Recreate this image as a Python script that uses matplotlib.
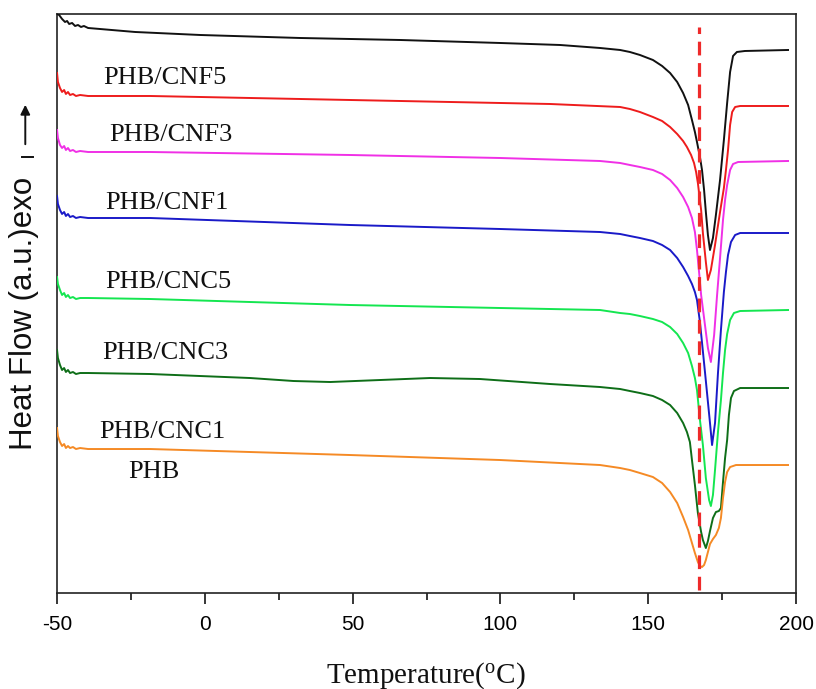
import matplotlib
matplotlib.use("Agg")
import matplotlib.pyplot as plt
from matplotlib.ticker import MultipleLocator

plt.rcParams["axes.unicode_minus"] = False

# ── data (temperature in °C, heat flow in a.u.) ─────────────────────────────
# PHB/CNF5 ... black curve at the top
cnf5_t  = [-50, -49.3, -48.3, -47.3, -46.6, -45.9, -44.9, -43.9, -42.9, -41.9, -40.9,
           -39.5, -35.5, -23.6, -1.6, 32.2, 66.0, 99.9, 120.2, 133.7, 140.5,
           143.8, 147.2, 151.6, 154.7, 157.4, 159.8, 161.8, 163.5, 164.8, 165.8,
           166.5, 167.5, 168.2, 168.9, 169.5, 170.2, 170.9,
           171.9, 172.9, 174.3, 175.6, 176.7, 177.7, 178.7, 180.0, 182.7, 197.3]
cnf5_hf = [579, 578, 574, 571, 572, 569, 570, 567, 568, 566, 567,
           565, 564, 561, 558, 555, 553, 550, 548, 545, 543,
           541, 538, 533, 527, 520, 511, 500, 488, 473, 461,
           451, 436, 423, 403, 381, 358, 343,
           355, 378, 413, 453, 490, 521, 537, 541, 542, 543]

# red
cnf3_t  = [-50, -49.7, -49.0, -48.3, -47.6, -47.0, -46.3, -45.6, -44.6, -43.6, -42.2,
           -39.5, -18.5, 15.3, 49.1, 83.0, 116.8, 140.5,
           143.8, 147.2, 151.6, 154.7, 157.4, 159.8, 161.8, 163.1, 164.5, 165.5,
           166.2, 166.8, 167.9, 168.5, 169.5, 170.2,
           171.2, 172.6, 174.3, 175.6, 176.3, 177.0, 177.7, 178.4, 179.4, 181.1, 197.3]
cnf3_hf = [520, 511, 505, 501, 503, 499, 501, 498, 499, 497, 498,
           497, 497, 495, 493, 491, 489, 486,
           484, 481, 476, 472, 466, 459, 452, 446, 438, 430,
           421, 410, 383, 360, 331, 313,
           323, 348, 381, 405, 423, 443, 468, 481, 486, 487, 487]

# magenta
cnf1_t  = [-50, -49.7, -49.0, -48.3, -47.6, -47.0, -46.3, -45.6, -44.6, -43.6, -42.2,
           -39.5, -18.5, 49.1, 99.9, 133.7, 140.5,
           143.8, 147.2, 151.6, 154.7, 157.4, 159.8, 161.8, 163.5, 164.8, 165.8,
           166.5, 167.2, 167.9, 169.2, 170.2, 171.2,
           172.3, 173.3, 174.3, 175.3, 176.0, 176.7, 177.7, 178.7, 180.4, 197.3]
cnf1_hf = [463, 455, 448, 445, 447, 443, 445, 442, 443, 441, 442,
           441, 441, 438, 435, 432, 430,
           428, 426, 423, 419, 413, 405, 396, 386, 375, 361,
           343, 321, 298, 268, 245, 231,
           258, 298, 335, 373, 393, 408, 423, 429, 431, 432]

# blue
cnc5_t  = [-50, -49.7, -49.0, -48.3, -47.6, -47.0, -46.3, -45.6, -44.6, -43.6, -42.2,
           -39.5, -18.5, 49.1, 99.9, 133.7, 140.5,
           143.8, 147.2, 151.6, 154.7, 157.4, 159.8, 161.8, 163.5, 164.8, 165.8,
           166.5, 167.5, 169.2, 170.9, 171.6,
           172.6, 173.6, 174.6, 175.6, 176.3, 177.0, 178.0, 179.4, 181.1, 197.3]
cnc5_hf = [397, 389, 383, 379, 381, 377, 379, 376, 377, 375, 376,
           375, 375, 368, 364, 361, 359,
           357, 355, 352, 348, 343, 335, 326, 317, 309, 301,
           293, 271, 221, 170, 148,
           170, 220, 263, 301, 321, 338, 351, 358, 360, 360]

# bright green
cnc3_t  = [-50, -49.7, -49.0, -48.3, -47.6, -47.0, -46.3, -45.6, -44.6, -43.6, -42.2,
           -39.5, -18.5, 49.1, 99.9, 133.7, 140.5,
           143.8, 147.2, 151.6, 154.7, 157.4, 159.8, 161.8, 163.5, 164.8, 165.8,
           166.5, 167.5, 168.5, 169.5, 170.6, 171.2,
           171.9, 172.6, 173.6, 174.6, 175.3, 176.0, 176.7, 177.7, 179.0, 181.1, 197.3]
cnc3_hf = [316, 309, 303, 298, 300, 296, 298, 295, 296, 294, 295,
           295, 294, 288, 285, 283, 280,
           279, 277, 274, 271, 266, 259, 250, 240, 227, 215,
           203, 173, 148, 115, 93, 87,
           98, 123, 161, 193, 220, 243, 259, 273, 280, 282, 283]

# dark green
cnc1_t  = [-50, -49.7, -49.0, -48.3, -47.6, -47.0, -46.3, -45.6, -44.6, -43.6, -42.2,
           -39.5, -18.5, 15.3, 30.0, 42.4, 59.3, 76.2, 93.1, 116.8, 133.7, 140.5,
           143.8, 147.2, 151.6, 154.7, 157.4, 159.8, 161.8, 163.1, 164.1, 164.8,
           165.8, 166.8, 167.9, 168.5, 169.5,
           170.2, 170.9, 171.9, 172.9, 173.9, 174.6, 175.3, 176.0, 176.7, 177.3,
           178.0, 179.0, 181.1, 197.3]
cnc1_hf = [243, 235, 228, 223, 225, 221, 223, 220, 221, 219, 220,
           220, 219, 215, 212, 211, 213, 215, 214, 209, 206, 204,
           202, 200, 197, 193, 188, 180, 170, 161, 151, 133,
           108, 80, 61, 53, 45,
           52, 62, 75, 81, 82, 85, 111, 135, 153, 178,
           195, 202, 205, 205]

# orange, neat PHB
phb_t   = [-50, -49.7, -49.0, -48.3, -47.6, -47.0, -46.3, -45.6, -44.6, -43.6, -42.2,
           -39.5, -18.5, 49.1, 99.9, 133.7, 140.5,
           143.8, 147.2, 151.6, 154.7, 157.4, 159.8, 161.8, 163.5, 164.8, 165.8,
           166.8, 167.5, 168.2, 168.9, 169.5, 170.2, 170.9, 171.9, 172.9, 173.9,
           174.6, 175.3, 176.0, 176.7, 177.7, 179.7, 197.3]
phb_hf  = [165, 157, 151, 147, 149, 145, 147, 145, 146, 144, 145,
           144, 144, 138, 133, 128, 125,
           123, 120, 116, 110, 101, 90, 76, 63, 50, 40,
           31, 27, 26, 28, 33, 41, 49, 54, 58, 65,
           75, 95, 111, 121, 126, 128, 128]

series_t  = [cnf5_t, cnf3_t, cnf1_t, cnc5_t, cnc3_t, cnc1_t, phb_t]
series_hf = [cnf5_hf, cnf3_hf, cnf1_hf, cnc5_hf, cnc3_hf, cnc1_hf, phb_hf]
colors    = ["#111111", "#ee1c1c", "#f030e6", "#1a1ac8", "#14e650", "#0e6e18", "#f58a25"]

labels   = ["PHB/CNF5", "PHB/CNF3", "PHB/CNF1", "PHB/CNC5", "PHB/CNC3", "PHB/CNC1", "PHB"]
label_t  = [-13.5, -11.4, -12.8, -12.4, -13.5, -14.5, -17.2]
label_hf = [515, 458, 390, 311, 240, 161, 121]

tm_line = 167.2          # dashed marker for the melting peak
tm_span = (3, 566)

# ── figure ─────────────────────────────────────────────────────────────────
fig = plt.figure(figsize=(8.16, 6.89), dpi=100, facecolor="white")
ax = fig.add_axes([0.0699, 0.1393, 0.9056, 0.8404])

for t, hf, c in zip(series_t, series_hf, colors):
    ax.plot(t, hf, color=c, lw=1.4, zorder=3, solid_joinstyle="round")

ax.vlines(tm_line, *tm_span, colors="#ee2a2a", lw=2.3,
          linestyles=(0, (4.3, 2.4)), zorder=4)

for lab, x, y in zip(labels, label_t, label_hf):
    ax.text(x, y, lab, ha="center", va="center", fontsize=19,
            family="Liberation Serif", color="#111111")

ax.set_xlim(-50, 200)
ax.set_ylim(0, 579)
ax.xaxis.set_major_locator(MultipleLocator(50))
ax.xaxis.set_minor_locator(MultipleLocator(25))
ax.set_yticks([])

for sp in ax.spines.values():
    sp.set_linewidth(1.2)
    sp.set_color("#222222")

ax.tick_params(axis="x", which="major", direction="out", length=8, width=1.1,
               pad=8, labelsize=15)
ax.tick_params(axis="x", which="minor", direction="out", length=5, width=1.1)
for lbl in ax.get_xticklabels():
    lbl.set_family("Liberation Sans")

# axis titles placed in figure space
fig.text(0.522, 0.020, "Temperature($\\mathregular{^{o}}$C)", ha="center", va="center",
         fontsize=21, family="Liberation Serif", color="#111111")
fig.text(0.029, 0.5457, "Heat Flow (a.u.)exo", rotation=90, ha="center", va="center",
         fontsize=22.5, family="Liberation Sans", color="#111111")
# little "exo" arrow above the y title
ax.annotate("", xy=(0.031, (689 - 102) / 689), xytext=(0.031, (689 - 147) / 689),
            xycoords="figure fraction", textcoords="figure fraction",
            annotation_clip=False,
            arrowprops=dict(arrowstyle="-|>", color="#111111", lw=1.4,
                            mutation_scale=14))
fig.add_artist(plt.Line2D([22 / 816, 33 / 816], [(689 - 157) / 689] * 2,
                          color="#111111", lw=1.4))

fig.savefig("out.png", dpi=100, facecolor="white")
